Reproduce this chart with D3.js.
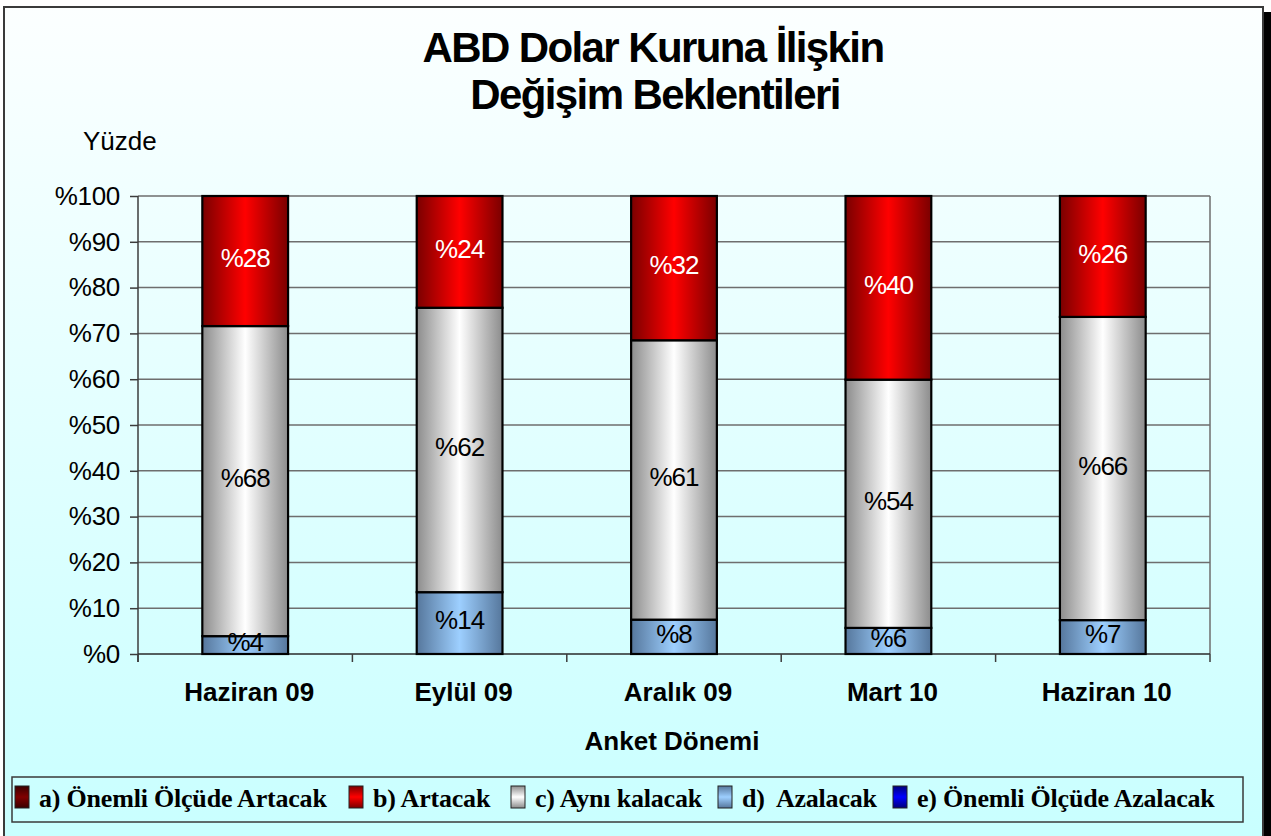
<!DOCTYPE html>
<html>
<head>
<meta charset="utf-8">
<script src="https://cdn.jsdelivr.net/npm/d3@7"></script>
<style>
  html, body { margin: 0; padding: 0; background: #fff; overflow: hidden; }
  svg { display: block; }
  text { white-space: pre; }
</style>
</head>
<body>
<svg id="chart" width="1271" height="836"></svg>
<script>
// ---- data ----
const categories = ["Haziran 09", "Eylül 09", "Aralık 09", "Mart 10", "Haziran 10"];
const seriesNames = ["a) Önemli Ölçüde Artacak", "b) Artacak", "c) Aynı kalacak", "d)  Azalacak", "e) Önemli Ölçüde Azalacak"];
const seriesA = [0, 0, 0, 0, 0];
const seriesB = [28.4, 24.4, 31.5, 40.1, 26.4];
const seriesC = [67.7, 62.1, 61.0, 54.2, 66.2];
const seriesD = [3.9, 13.5, 7.5, 5.7, 7.4];
const seriesE = [0, 0, 0, 0, 0];
const yTicks = [0, 10, 20, 30, 40, 50, 60, 70, 80, 90, 100];
const yTickLabels = ["%0", "%10", "%20", "%30", "%40", "%50", "%60", "%70", "%80", "%90", "%100"];
const titleLines = ["ABD Dolar Kuruna İlişkin", "Değişim Beklentileri"];
const yAxisTitle = "Yüzde";
const xAxisTitle = "Anket Dönemi";

// ---- build table ----
const keys = ["a", "b", "c", "d", "e"];
const seriesVals = { a: seriesA, b: seriesB, c: seriesC, d: seriesD, e: seriesE };
const table = categories.map((cat, i) => {
  const row = { cat };
  keys.forEach(k => row[k] = seriesVals[k][i]);
  return row;
});
// stacking bottom -> top
const stackOrder = ["e", "d", "c", "b", "a"];
const stacked = d3.stack().keys(stackOrder)(table);

const svg = d3.select("#chart");
const W = 1271, H = 836;

// ---- gradients ----
const defs = svg.append("defs");
const bg = defs.append("linearGradient").attr("id", "bg").attr("x1", 0).attr("y1", 0).attr("x2", 0).attr("y2", 1);
bg.append("stop").attr("offset", "0%").attr("stop-color", "#fcffff");
bg.append("stop").attr("offset", "100%").attr("stop-color", "#c8ffff");

const colorStops = {
  a: ["#3a0000", "#800000"],
  b: ["#7a0000", "#ff0000"],
  c: ["#8c8c8c", "#ffffff"],
  d: ["#56779c", "#9dcfff"],
  e: ["#00007a", "#0000ff"]
};
keys.forEach(k => {
  const gh = defs.append("linearGradient").attr("id", "gh-" + k).attr("x1", 0).attr("y1", 0).attr("x2", 1).attr("y2", 0);
  gh.append("stop").attr("offset", "0%").attr("stop-color", colorStops[k][0]);
  gh.append("stop").attr("offset", "50%").attr("stop-color", colorStops[k][1]);
  gh.append("stop").attr("offset", "100%").attr("stop-color", colorStops[k][0]);
  const gv = defs.append("linearGradient").attr("id", "gv-" + k).attr("x1", 0).attr("y1", 0).attr("x2", 0).attr("y2", 1);
  gv.append("stop").attr("offset", "0%").attr("stop-color", colorStops[k][0]);
  gv.append("stop").attr("offset", "50%").attr("stop-color", colorStops[k][1]);
  gv.append("stop").attr("offset", "100%").attr("stop-color", colorStops[k][0]);
});

// ---- frame ----
svg.append("rect").attr("x", 0).attr("y", 0).attr("width", W).attr("height", H).attr("fill", "#ffffff");
svg.append("rect").attr("x", 1263).attr("y", 12).attr("width", 8).attr("height", H).attr("fill", "#000");
svg.append("rect").attr("x", 4).attr("y", 7).attr("width", 1259).attr("height", 840)
  .attr("fill", "url(#bg)").attr("stroke", "#3a3a3a").attr("stroke-width", 2);

// ---- scales ----
const plot = { left: 138, right: 1210, top: 196, bottom: 654 };
const x = d3.scaleBand().domain(categories).range([plot.left, plot.right]).paddingInner(0.6).paddingOuter(0.3);
const xBand = d3.scaleBand().domain(categories).range([plot.left, plot.right]);
const y = d3.scaleLinear().domain([0, 100]).range([plot.bottom, plot.top]);

// gridlines
svg.append("g").selectAll("line").data(yTicks.filter(t => t > 0)).join("line")
  .attr("x1", plot.left).attr("x2", plot.right)
  .attr("y1", d => y(d)).attr("y2", d => y(d))
  .attr("stroke", "#6e6e6e").attr("stroke-width", 1.5);
// right border of plot
svg.append("line").attr("x1", plot.right).attr("x2", plot.right).attr("y1", plot.top).attr("y2", plot.bottom)
  .attr("stroke", "#6e6e6e").attr("stroke-width", 1.5);

// y axis
const yAxis = d3.axisLeft(y).tickValues(yTicks).tickSize(8).tickPadding(10)
  .tickFormat((d, i) => yTickLabels[i]);
const gy = svg.append("g").attr("transform", `translate(${plot.left},0)`).call(yAxis);
gy.select(".domain").remove();
gy.selectAll(".tick line").attr("stroke", "#3c3c3c").attr("stroke-width", 1.5);
gy.selectAll(".tick text").attr("font-family", "Arial, 'Liberation Sans', sans-serif")
  .attr("font-size", 26).attr("fill", "#000").attr("letter-spacing", "-0.3");
svg.append("line").attr("x1", plot.left).attr("x2", plot.left).attr("y1", plot.top).attr("y2", plot.bottom + 8)
  .attr("stroke", "#3c3c3c").attr("stroke-width", 1.5);

// x axis line and ticks
svg.append("line").attr("x1", plot.left).attr("x2", plot.right).attr("y1", plot.bottom).attr("y2", plot.bottom)
  .attr("stroke", "#2a2a2a").attr("stroke-width", 1.5);
const boundaries = categories.map(c => xBand(c)).concat([plot.right]);
svg.append("g").selectAll("line").data(boundaries).join("line")
  .attr("x1", d => d).attr("x2", d => d).attr("y1", plot.bottom).attr("y2", plot.bottom + 8)
  .attr("stroke", "#3c3c3c").attr("stroke-width", 1.5);
svg.append("g").selectAll("text").data(categories).join("text")
  .attr("x", d => xBand(d) + xBand.bandwidth() / 2 + 4).attr("y", 701)
  .attr("text-anchor", "middle")
  .attr("font-family", "Arial, 'Liberation Sans', sans-serif").attr("font-weight", "bold")
  .attr("font-size", 26).attr("fill", "#000")
  .text(d => d);

// bars
const gBars = svg.append("g");
stacked.forEach(layer => {
  const k = layer.key;
  gBars.selectAll(null).data(layer.filter(d => d[1] - d[0] > 0)).join("rect")
    .attr("x", d => x(d.data.cat))
    .attr("width", x.bandwidth())
    .attr("y", d => y(d[1]))
    .attr("height", d => y(d[0]) - y(d[1]))
    .attr("fill", `url(#gh-${k})`)
    .attr("stroke", "#000").attr("stroke-width", 2.2);
});
// labels
stacked.forEach(layer => {
  const k = layer.key;
  gBars.selectAll(null).data(layer.filter(d => d[1] - d[0] > 0)).join("text")
    .attr("x", d => x(d.data.cat) + x.bandwidth() / 2)
    .attr("y", d => (y(d[0]) + y(d[1])) / 2 - 3)
    .attr("dy", "0.35em")
    .attr("text-anchor", "middle")
    .attr("font-family", "Arial, 'Liberation Sans', sans-serif")
    .attr("font-size", 26).attr("letter-spacing", "-1")
    .attr("fill", (k === "a" || k === "b" || k === "e") ? "#fff" : "#000")
    .text(d => "%" + Math.round(d[1] - d[0]));
});

// titles
const title = svg.append("text").attr("text-anchor", "middle")
  .attr("font-family", "Arial, 'Liberation Sans', sans-serif").attr("font-weight", "bold")
  .attr("font-size", 42).attr("letter-spacing", "-1.6").attr("fill", "#000");
title.append("tspan").attr("x", 653).attr("y", 62).text(titleLines[0]);
title.append("tspan").attr("x", 655).attr("y", 109).text(titleLines[1]);

svg.append("text").attr("x", 83).attr("y", 150)
  .attr("font-family", "Arial, 'Liberation Sans', sans-serif").attr("font-size", 26)
  .attr("fill", "#000").text(yAxisTitle);

svg.append("text").attr("x", (plot.left + plot.right) / 2 - 2).attr("y", 750).attr("text-anchor", "middle")
  .attr("font-family", "Arial, 'Liberation Sans', sans-serif").attr("font-weight", "bold")
  .attr("font-size", 26).attr("fill", "#000").text(xAxisTitle);

// legend
svg.append("rect").attr("x", 12).attr("y", 777).attr("width", 1231).attr("height", 45)
  .attr("fill", "none").attr("stroke", "#3a3a3a").attr("stroke-width", 1.5);
const legendX = [15, 349, 511, 718, 893];
const lg = svg.append("g").selectAll("g").data(keys).join("g")
  .attr("transform", (d, i) => `translate(${legendX[i]},0)`);
lg.append("rect").attr("x", 0).attr("y", 786).attr("width", 14).attr("height", 22)
  .attr("fill", d => `url(#gv-${d})`).attr("stroke", "#222").attr("stroke-width", 1);
lg.append("text").attr("x", 24).attr("y", 807)
  .attr("font-family", "'Times New Roman', 'Liberation Serif', serif").attr("font-weight", "bold")
  .attr("font-size", 26).attr("letter-spacing", "-0.2").attr("fill", "#000")
  .text((d, i) => seriesNames[i]);
</script>
</body>
</html>
